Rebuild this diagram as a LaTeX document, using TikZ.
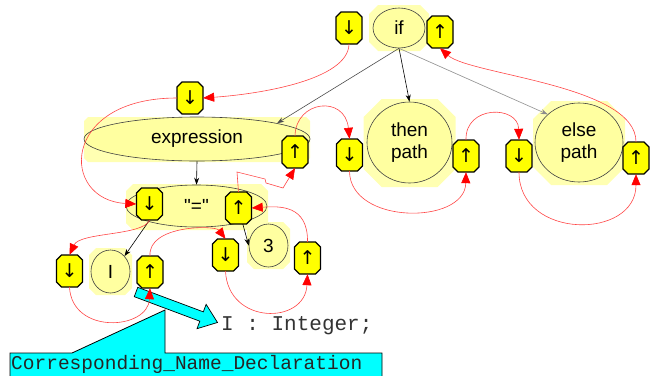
\documentclass[tikz,border=0pt]{standalone}
\usepackage{fontspec}
\setmainfont{Liberation Sans}
\newfontfamily\labelfont{Liberation Sans}
\newfontfamily\dvfont{DejaVu Sans}
\newfontfamily\monofont{Liberation Mono}
\usetikzlibrary{shapes.geometric,arrows.meta}
\definecolor{octyellow}{RGB}{255,255,0}
\definecolor{nodeyellow}{RGB}{255,255,160}
\definecolor{haloyellow}{RGB}{255,255,178}
\definecolor{linkred}{RGB}{255,70,70}
\definecolor{calloutcyan}{RGB}{0,255,255}
\tikzset{
  octshape/.style={fill=octyellow, draw=black, line width=1.1pt, line join=miter},
  octtext/.style={rectangle, minimum width=26pt, minimum height=32pt, inner sep=0pt,
    font=\dvfont\fontsize{19}{19}\selectfont},
  ell/.style={ellipse, fill=nodeyellow, draw=black!75, line width=0.6pt, inner sep=0pt,
    align=center, font=\labelfont\fontsize{19}{22}\selectfont},
  halo/.style={fill=haloyellow, draw=none},
  link/.style={draw=linkred, line width=0.6pt, -{Triangle[length=11pt,width=9pt,color=red]}},
  tree/.style={draw=black, line width=0.6pt, -{Stealth[length=7pt,width=5pt]}}
}
% octagon box: name, x, y, glyph
\newcommand\octbox[4]{%
  \begin{scope}[shift={(#2,#3)}]
    \draw[octshape] (-8,-16) -- (8,-16) -- (13,-11) -- (13,11) -- (8,16) -- (-8,16) -- (-13,11) -- (-13,-11) -- cycle;
  \end{scope}
  \node[octtext] (#1) at (#2,#3) {#4};}
% halo: x, y, half width, half height, chamfer
\newcommand\halobox[5]{%
  \begin{scope}[shift={(#1,#2)}]
    \fill[halo] ({-#3+#5},{-#4}) -- ({#3-#5},{-#4}) -- ({#3},{-#4+#5}) -- ({#3},{#4-#5}) -- ({#3-#5},{#4}) -- ({-#3+#5},{#4}) -- ({-#3},{#4-#5}) -- ({-#3},{-#4+#5}) -- cycle;
  \end{scope}}
\begin{document}
\begin{tikzpicture}[x=1pt,y=-1pt]
\useasboundingbox (0,0) rectangle (652,375);
% halos
\halobox{399}{28}{30}{23}{9}
\halobox{197}{139.5}{113}{22.5}{4}
\halobox{409.5}{143}{46}{44}{18}
\halobox{579}{143}{46}{42}{18}
\halobox{197}{207}{71}{23}{7}
\halobox{110.5}{271.5}{21.5}{23.5}{7}
\halobox{268.5}{245.5}{21.5}{23.5}{7}
% ellipses
\node[ell, minimum width=52pt, minimum height=40pt] (if) at (399,28) {if};
\node[ell, minimum width=226pt, minimum height=44pt] (ex) at (197,139) {expression};
\node[ell, minimum width=85pt, minimum height=81pt] (then) at (409.5,142.5) {then\\path};
\node[ell, minimum width=88pt, minimum height=79pt] (else) at (579,142.5) {else\\path};
\node[ell, minimum width=141pt, minimum height=42pt] (eq) at (196.5,206) {"="};
\node[ell, minimum width=39pt, minimum height=43pt] (I) at (110.5,271.5) {I};
\node[ell, minimum width=39pt, minimum height=43pt] (three) at (268.5,245.5) {3};
% tree edges
\draw[tree, draw=black!70] (if.south) -- (ex.north east);
\draw[tree] (if.south) -- (then.north);
\draw[tree, draw=black!45] (if.south) -- (else.north west);
\draw[tree] (ex.south) -- (eq.north);
% octagons
\octbox{ifd}{349}{28}{↓}
\octbox{ifu}{440}{32}{↑}
\octbox{exd}{190}{98}{↓}
\octbox{exu}{295}{152}{↑}
\octbox{thd}{349.5}{155}{↓}
\octbox{thu}{466}{156}{↑}
\octbox{eld}{519}{156}{↓}
\octbox{elu}{636}{158}{↑}
\octbox{eqd}{149.5}{204}{↓}
\octbox{equ}{238.5}{208}{↑}
\octbox{Id}{69.5}{271}{↓}
\octbox{Iu}{150}{272}{↑}
\octbox{td}{225.5}{255}{↓}
\octbox{tu}{307.5}{258}{↑}
\draw[tree] (eqd.south) -- (I.north east);
\draw[tree] (equ.-75) -- (three.west);
% callout
\draw[fill=calloutcyan, draw=black, line width=0.8pt]
  (10,377) -- (10,353) -- (72,353) -- (165,310) -- (165,353) -- (382,353) -- (382,377);
\node[anchor=base west, inner sep=0pt, font=\monofont\fontsize{19.5}{20}\selectfont, text=black!85] (cnd) at (11,369.5) {Corresponding\_Name\_Declaration};
% pointer arrow
\begin{scope}[shift={(136,292)}, rotate=-20.5]
\draw[fill=calloutcyan, draw=black, line width=0.7pt]
  (0,-5) -- (70,-5) -- (70,-13) -- (87,0) -- (70,13) -- (70,5) -- (0,5) -- cycle;
\end{scope}
\node[anchor=base west, inner sep=0pt, font=\monofont\fontsize{21}{21}\selectfont, text=black!80] (decl) at (221,330.5) {I : Integer;};
% red links
\draw[link] (ifd.south) .. controls (348,80) and (260,94) .. (exd.east);
\draw[link] (exd.west) .. controls (60,98) and (60,200) .. (eqd.west);
\draw[link] (eqd.south) .. controls (143,236) and (80,232) .. (Id.north);
\draw[link] (Id.south) .. controls (72,335) and (148,330) .. (Iu.south);
\draw[link] (Iu.north) .. controls (148,225) and (215,225) .. (td.north);
\draw[link] (td.south) .. controls (228,325) and (305,325) .. (tu.south);
\draw[link] (tu.north) .. controls (308,205) and (280,206) .. (equ.east);
\draw[link] (equ.north) -- (237,172) -- (265,179) -- (266,183) -- (283,188) -- (exu.south);
\draw[link] (exu.north) .. controls (296,100) and (345,95) .. (thd.north);
\draw[link] (thd.south) .. controls (350,225) and (465,225) .. (thu.south);
\draw[link] (thu.north) .. controls (465,105) and (518,105) .. (eld.north);
\draw[link] (eld.south) .. controls (519,240) and (636,240) .. (elu.south);
\draw[link] (elu.north) .. controls (636,85) and (470,75) .. (ifu.south);
\end{tikzpicture}
\end{document}
